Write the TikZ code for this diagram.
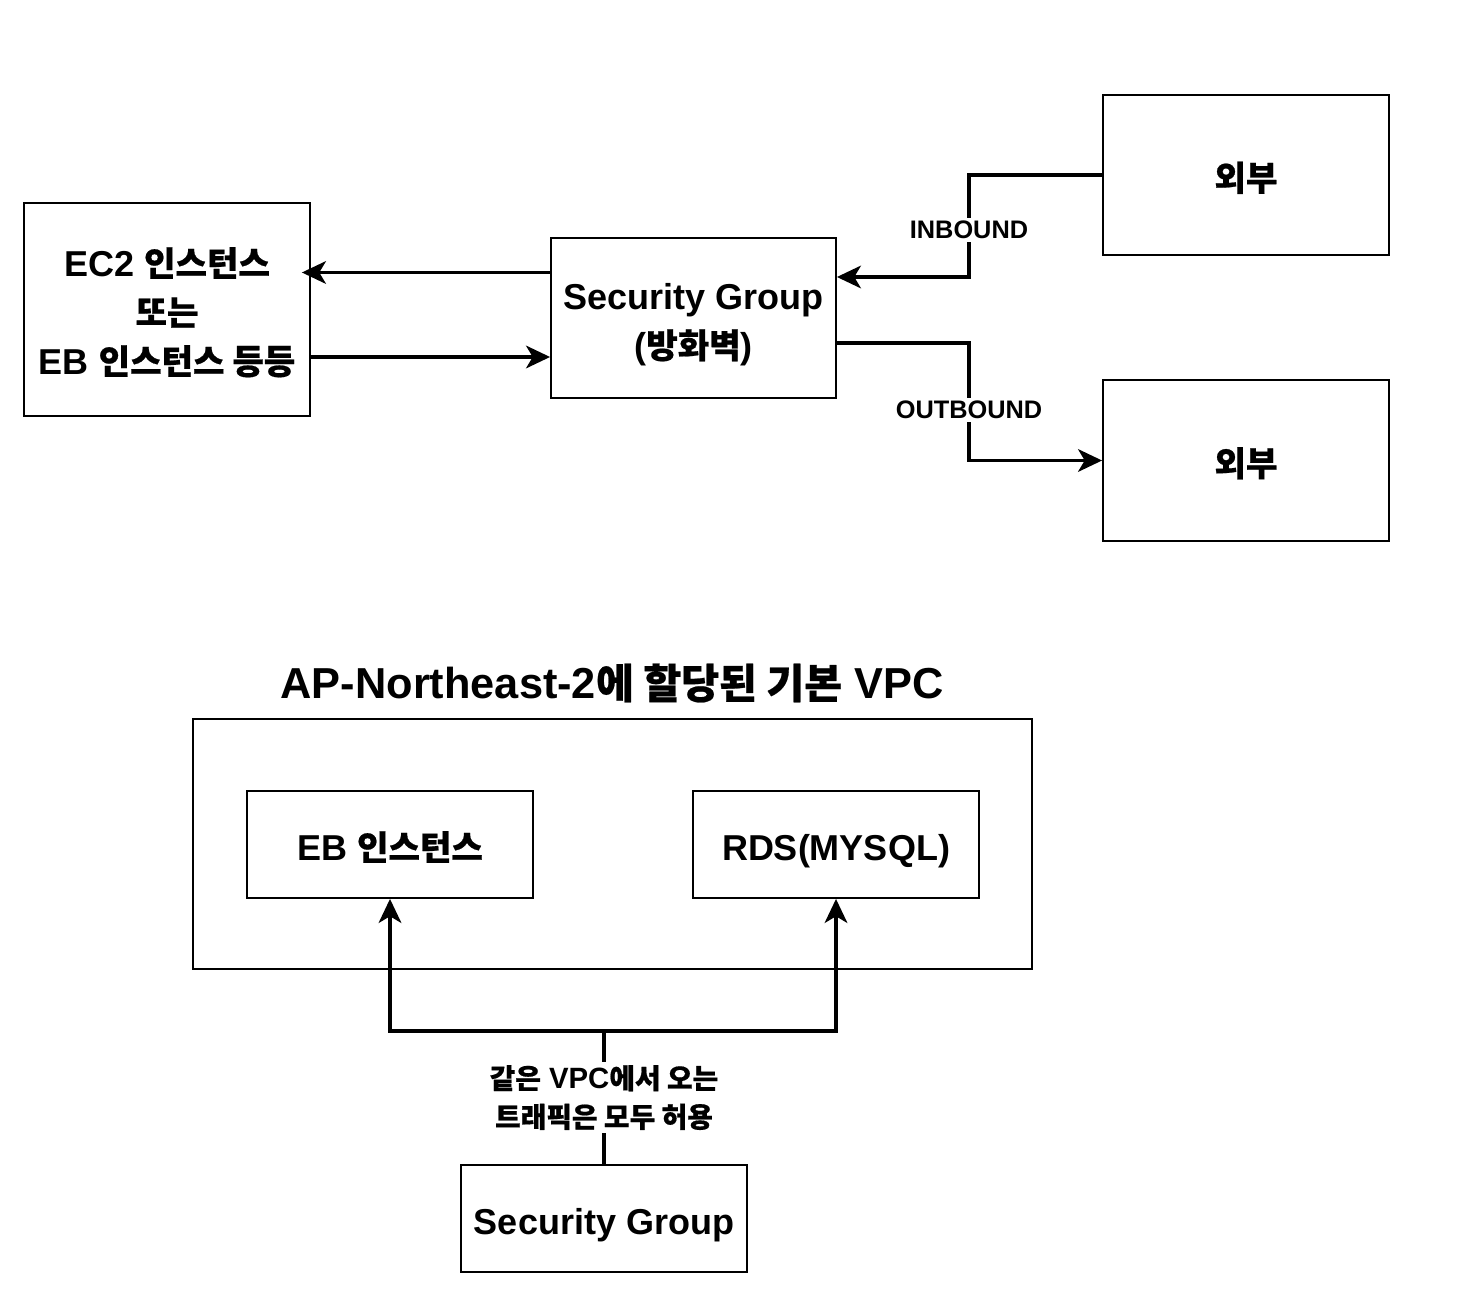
\documentclass[tikz,border=0pt]{standalone}
\usepackage{fontspec}
\setmainfont{Liberation Sans}
\newfontfamily\krfont[Scale=0.95,FakeBold=0.6]{Noto Sans CJK KR}
\newcommand\hg[1]{{\krfont #1}}
\usetikzlibrary{arrows.meta}
\begin{document}
\begin{tikzpicture}[x=0.75pt,y=-0.75pt,
  box/.style={draw=black, line width=1.4pt, minimum width=214.5pt, inner sep=0pt, align=center,
              font=\bfseries\fontsize{27}{36.75}\selectfont, text depth=2pt, text height=25.4pt},
  two/.style={text height=62.15pt},
  three/.style={text height=98.9pt},
  conn/.style={line width=2.4pt, -{Stealth[length=18pt,width=17pt,inset=5pt]}},
  plain/.style={line width=2.4pt},
  lbl/.style={fill=white, inner sep=2pt, align=center, font=\bfseries\fontsize{19}{24}\selectfont},
  lblk/.style={fill=white, inner sep=2pt, align=center, font=\bfseries\fontsize{22}{29}\selectfont}]
\useasboundingbox (0,0) rectangle (1460,1308);

% top part
\node[box, three, minimum height=159.75pt] (ec2) at (167,309.5)
  {EC2 \hg{인스턴스}\\\hg{또는}\\EB \hg{인스턴스 등등}};
\node[box, two, minimum width=213.75pt, minimum height=120pt] (sg) at (693.5,318)
  {Security Group\\(\hg{방화벽})};
\node[box, minimum height=120pt] (ext1) at (1246,175) {\hg{외부}};
\node[box, minimum height=120.75pt] (ext2) at (1246,460.5) {\hg{외부}};

\coordinate (ya) at (0,272.5);
\coordinate (yb) at (0,357);
\coordinate (yin) at (0,277);
\coordinate (yout) at (0,343);

\draw[conn, shorten >=-6.75pt] (sg.west |- ya) -- (ec2.east |- ya);
\draw[conn] (ec2.east |- yb) -- (sg.west |- yb);
\draw[conn] (ext1.west) -- (969,175) -- node[lbl, pos=0.54] {INBOUND} (969,277) -- (sg.east |- yin);
\draw[conn] (sg.east |- yout) -- (969,343) -- node[lbl, pos=0.57] {OUTBOUND} (969,460.5) -- (ext2.west);

% bottom part
\node[font=\bfseries\fontsize{32.5}{40}\selectfont] (title) at (612,683)
  {AP-Northeast-2\hg{에 할당된 기본} VPC};
\node[box, minimum width=629.25pt, minimum height=187.5pt] (vpc) at (612.5,844) {};
\node[box, minimum height=80.25pt] (eb) at (390,844.5) {EB \hg{인스턴스}};
\node[box, minimum height=80.25pt] (rds) at (836,844.5) {RDS(MYSQL)};
\node[box, minimum height=80.25pt] (sg2) at (604,1218.5) {Security Group};

\coordinate (j) at (604,1031);
\draw[plain] (sg2.north) -- node[lblk] {\hg{같은} VPC\hg{에서 오는}\\\hg{트래픽은 모두 허용}} (j);
\draw[conn] (j) -| (eb.south);
\draw[conn] (j) -| (rds.south);
\end{tikzpicture}
\end{document}
